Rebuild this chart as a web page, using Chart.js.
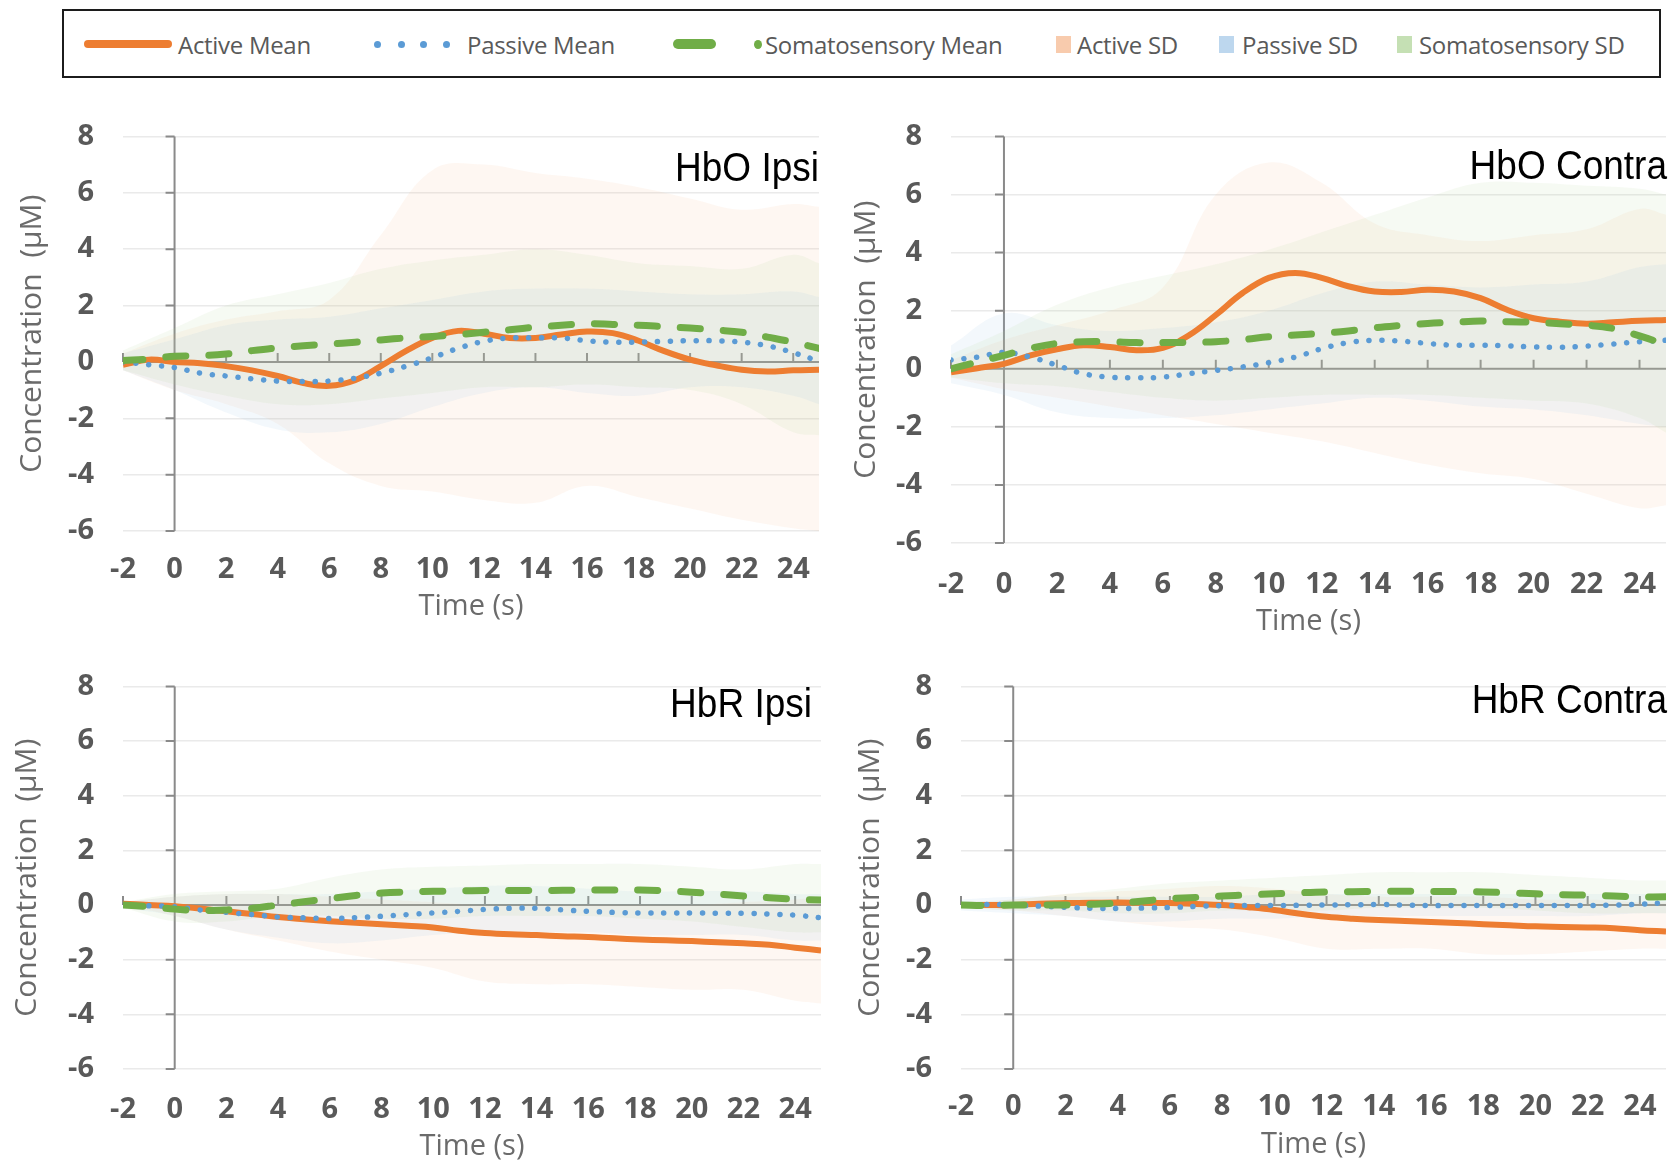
<!DOCTYPE html>
<html>
<head>
<meta charset="utf-8">
<script src="https://cdn.jsdelivr.net/npm/chart.js@4.4.1/dist/chart.umd.min.js"></script>
<style>
  html, body { margin: 0; padding: 0; background: #ffffff; }
  #page { position: relative; width: 1680px; height: 1164px; overflow: hidden; background: #fff; }
  .wrap { position: absolute; }
  .wrap canvas { display: block; }
  #legend { position: absolute; left: 62px; top: 9px; width: 1595px; height: 65px; border: 2px solid #1c1c1c; }
  .lg { position: absolute; font-family: "Open Sans", sans-serif; font-size: 24px; color: #595959; line-height: 1; top: 22px; white-space: nowrap; letter-spacing: -0.3px; }
  .sw { position: absolute; }
  .ptitle { position: absolute; font-family: "Liberation Sans", Arial, sans-serif; font-size: 37px; color: #000; line-height: 1; white-space: nowrap; transform-origin: right bottom; transform: scaleY(1.1); text-align: right; }
</style>
</head>
<body>
<div id="page">
  <div id="legend">
    <div class="sw" style="left:20px;top:29px;width:88px;height:8px;background:#ED7D31;border-radius:4px;"></div>
    <div class="lg" style="left:114px;">Active Mean</div>
    <div class="sw" style="left:310px;top:30px;width:7px;height:7px;background:#5B9BD5;border-radius:50%;"></div>
    <div class="sw" style="left:334px;top:30px;width:7px;height:7px;background:#5B9BD5;border-radius:50%;"></div>
    <div class="sw" style="left:356px;top:30px;width:7px;height:7px;background:#5B9BD5;border-radius:50%;"></div>
    <div class="sw" style="left:379px;top:30px;width:7px;height:7px;background:#5B9BD5;border-radius:50%;"></div>
    <div class="lg" style="left:403px;">Passive Mean</div>
    <div class="sw" style="left:609px;top:28px;width:43px;height:10px;background:#70AD47;border-radius:5px;"></div>
    <div class="sw" style="left:690px;top:29px;width:8px;height:9px;background:#70AD47;border-radius:50%;"></div>
    <div class="lg" style="left:701px;">Somatosensory Mean</div>
    <div class="sw" style="left:992px;top:25px;width:15px;height:17px;background:#F8CBAD;"></div>
    <div class="lg" style="left:1013px;">Active SD</div>
    <div class="sw" style="left:1155px;top:25px;width:15px;height:17px;background:#BDD7EE;"></div>
    <div class="lg" style="left:1178px;">Passive SD</div>
    <div class="sw" style="left:1333px;top:25px;width:15px;height:17px;background:#C5E0B4;"></div>
    <div class="lg" style="left:1355px;">Somatosensory SD</div>
  </div>

  <div class="wrap" style="left:0px;top:90px;"><canvas id="c1" width="840" height="560"></canvas></div>
  <div class="wrap" style="left:840px;top:90px;"><canvas id="c2" width="840" height="560"></canvas></div>
  <div class="wrap" style="left:0px;top:640px;"><canvas id="c3" width="840" height="524"></canvas></div>
  <div class="wrap" style="left:840px;top:640px;"><canvas id="c4" width="840" height="524"></canvas></div>

  <div class="ptitle" style="right:861px;top:151px;">HbO Ipsi</div>
  <div class="ptitle" style="right:13px;top:149px;">HbO Contra</div>
  <div class="ptitle" style="right:868px;top:687px;">HbR Ipsi</div>
  <div class="ptitle" style="right:13px;top:683px;">HbR Contra</div>
</div>

<script>
// ---------- time bases (s) ----------
const timeMean = [-2,-1,0,1,2,3,4,5,6,7,8,9,10,11,12,13,14,15,16,17,18,19,20,21,22,23,24,25];
const timeSD   = [-2,0,2,4,6,8,10,12,14,16,18,20,22,24,25];

// ---------- tick labels ----------
const xTickStep = 2;
const yTickStep = 2;
const xMin = -2, xMax = 25;
const yMin = -6, yMax = 8;

// ---------- HbO Ipsi ----------
const hboIpsiActive  = [-0.1,0.08,0.0,-0.05,-0.15,-0.3,-0.5,-0.75,-0.85,-0.65,-0.15,0.4,0.85,1.1,1.0,0.85,0.85,0.97,1.08,1.02,0.75,0.38,0.08,-0.12,-0.28,-0.34,-0.3,-0.28];
const hboIpsiPassive = [0.0,-0.1,-0.2,-0.4,-0.5,-0.6,-0.68,-0.7,-0.68,-0.58,-0.4,-0.15,0.15,0.48,0.73,0.85,0.85,0.85,0.75,0.7,0.7,0.73,0.75,0.75,0.7,0.57,0.33,0.02];
const hboIpsiSoma    = [0.05,0.1,0.2,0.22,0.28,0.4,0.5,0.57,0.63,0.7,0.78,0.85,0.9,0.97,1.05,1.14,1.23,1.3,1.35,1.33,1.3,1.25,1.2,1.13,1.05,0.88,0.7,0.48];
const hboIpsiActiveHi  = [0.3,1.0,1.5,1.8,2.2,4.5,6.8,7.0,6.7,6.5,6.2,5.8,5.4,5.6,5.5];
const hboIpsiActiveLo  = [-0.3,-1.0,-1.5,-2.2,-3.6,-4.4,-4.6,-4.9,-5.0,-4.4,-4.8,-5.2,-5.6,-5.9,-6.0];
const hboIpsiPassiveHi = [0.3,0.8,1.3,1.5,1.6,1.9,2.2,2.5,2.6,2.6,2.5,2.4,2.4,2.5,2.3];
const hboIpsiPassiveLo = [-0.3,-1.0,-1.8,-2.4,-2.5,-2.2,-1.6,-1.1,-0.9,-1.1,-1.2,-0.9,-0.9,-1.2,-1.5];
const hboIpsiSomaHi    = [0.4,1.2,2.0,2.4,2.8,3.3,3.6,3.8,4.0,3.8,3.5,3.4,3.3,3.8,3.5];
const hboIpsiSomaLo    = [-0.3,-0.8,-1.2,-1.5,-1.5,-1.3,-1.1,-0.9,-0.9,-0.8,-0.9,-1.0,-1.5,-2.5,-2.6];

// ---------- HbO Contra ----------
const hboContraActive  = [-0.12,0.02,0.17,0.46,0.67,0.81,0.75,0.64,0.72,1.16,1.85,2.6,3.13,3.3,3.13,2.84,2.66,2.64,2.72,2.66,2.43,2.03,1.74,1.62,1.55,1.6,1.65,1.68];
const hboContraPassive = [0.3,0.4,0.56,0.4,0.12,-0.17,-0.29,-0.31,-0.29,-0.17,-0.06,0.06,0.21,0.4,0.69,0.9,0.98,0.95,0.87,0.81,0.81,0.79,0.75,0.74,0.78,0.85,0.93,0.98];
const hboContraSoma    = [0.0,0.23,0.46,0.7,0.87,0.93,0.93,0.9,0.9,0.91,0.93,1.0,1.1,1.16,1.22,1.3,1.41,1.49,1.56,1.6,1.64,1.62,1.6,1.55,1.5,1.39,1.13,0.83];
const hboContraActiveHi  = [0.3,1.0,1.5,2.0,2.8,6.0,7.1,6.4,5.0,4.6,4.4,4.6,4.8,5.5,5.3];
const hboContraActiveLo  = [-0.3,-0.7,-1.0,-1.3,-1.6,-1.9,-2.2,-2.5,-2.9,-3.3,-3.6,-3.8,-4.3,-4.8,-4.7];
const hboContraPassiveHi = [0.8,1.9,1.5,1.3,1.4,1.6,2.0,2.6,3.0,2.9,2.8,2.9,3.0,3.5,3.6];
const hboContraPassiveLo = [-0.5,-0.9,-1.5,-1.7,-1.7,-1.6,-1.4,-1.2,-1.0,-1.1,-1.3,-1.4,-1.6,-1.9,-2.0];
const hboContraSomaHi    = [0.5,1.3,2.2,2.8,3.2,3.6,4.1,4.7,5.3,5.9,6.4,6.4,6.3,6.2,6.0];
const hboContraSomaLo    = [-0.3,-0.5,-0.6,-0.8,-1.0,-1.1,-1.0,-0.9,-0.9,-0.9,-1.0,-1.1,-1.2,-1.7,-2.2];

// ---------- HbR Ipsi ----------
const hbrIpsiActive  = [0.05,0.0,-0.04,-0.13,-0.23,-0.33,-0.44,-0.52,-0.59,-0.65,-0.7,-0.76,-0.82,-0.94,-1.02,-1.07,-1.1,-1.14,-1.17,-1.22,-1.26,-1.29,-1.32,-1.36,-1.4,-1.45,-1.56,-1.66];
const hbrIpsiPassive = [0.0,-0.03,-0.06,-0.18,-0.27,-0.35,-0.44,-0.47,-0.49,-0.46,-0.41,-0.35,-0.29,-0.23,-0.16,-0.12,-0.12,-0.18,-0.23,-0.27,-0.29,-0.29,-0.29,-0.3,-0.3,-0.33,-0.37,-0.47];
const hbrIpsiSoma    = [0.0,-0.06,-0.15,-0.2,-0.18,-0.12,0.0,0.12,0.23,0.35,0.44,0.48,0.5,0.52,0.53,0.53,0.53,0.54,0.55,0.55,0.55,0.52,0.47,0.4,0.33,0.27,0.21,0.18];
const hbrIpsiActiveHi  = [0.1,0.3,0.4,0.4,0.3,0.2,0.1,0.0,0.0,0.0,0.0,0.0,0.1,0.2,0.3];
const hbrIpsiActiveLo  = [0.0,-0.4,-0.9,-1.3,-1.7,-2.0,-2.3,-2.8,-2.9,-2.9,-3.0,-3.1,-3.1,-3.5,-3.6];
const hbrIpsiPassiveHi = [0.1,0.3,0.4,0.4,0.4,0.5,0.6,0.7,0.7,0.6,0.5,0.5,0.5,0.4,0.4];
const hbrIpsiPassiveLo = [-0.1,-0.4,-0.9,-1.2,-1.4,-1.3,-1.1,-1.0,-1.0,-1.0,-1.1,-1.1,-1.1,-1.3,-1.3];
const hbrIpsiSomaHi    = [0.1,0.4,0.5,0.6,1.0,1.3,1.4,1.45,1.5,1.5,1.5,1.4,1.3,1.5,1.5];
const hbrIpsiSomaLo    = [-0.1,-0.6,-0.6,-0.4,-0.4,-0.5,-0.5,-0.4,-0.4,-0.4,-0.5,-0.6,-0.8,-1.0,-1.0];

// ---------- HbR Contra ----------
const hbrContraActive  = [0.0,0.0,0.0,0.05,0.07,0.08,0.09,0.08,0.07,0.04,0.0,-0.08,-0.18,-0.32,-0.43,-0.5,-0.55,-0.58,-0.62,-0.66,-0.7,-0.74,-0.78,-0.8,-0.82,-0.85,-0.92,-0.97];
const hbrContraPassive = [0.0,0.02,0.0,-0.04,-0.08,-0.12,-0.13,-0.11,-0.09,-0.05,-0.02,-0.02,-0.02,-0.01,0.0,0.01,0.02,0.0,-0.02,-0.02,-0.02,-0.02,-0.02,-0.02,-0.02,0.0,0.03,0.09];
const hbrContraSoma    = [0.0,-0.02,0.0,0.0,0.0,0.03,0.07,0.15,0.23,0.28,0.33,0.37,0.41,0.45,0.48,0.49,0.5,0.5,0.5,0.49,0.48,0.45,0.41,0.38,0.36,0.33,0.3,0.3];
const hbrContraActiveHi  = [0.1,0.2,0.4,0.5,0.6,0.7,0.6,0.4,0.3,0.3,0.3,0.2,0.2,0.1,0.1];
const hbrContraActiveLo  = [-0.1,-0.2,-0.4,-0.6,-0.8,-0.9,-1.2,-1.6,-1.6,-1.6,-1.8,-1.8,-1.7,-1.6,-1.6];
const hbrContraPassiveHi = [0.2,0.3,0.3,0.3,0.3,0.3,0.4,0.4,0.4,0.4,0.4,0.4,0.4,0.4,0.4];
const hbrContraPassiveLo = [-0.2,-0.3,-0.4,-0.6,-0.6,-0.5,-0.5,-0.4,-0.4,-0.4,-0.4,-0.4,-0.4,-0.3,-0.3];
const hbrContraSomaHi    = [0.1,0.2,0.4,0.6,0.8,0.9,1.0,1.1,1.2,1.2,1.2,1.1,1.0,0.9,0.9];
const hbrContraSomaLo    = [-0.1,-0.2,-0.2,-0.3,-0.3,-0.2,-0.2,-0.2,-0.1,-0.1,-0.1,-0.2,-0.3,-0.3,-0.3];

// ---------- helpers ----------
function pts(ts, vs) { return ts.map((t, i) => ({ x: t, y: vs[i] })); }

const COL = {
  active: '#ED7D31', passive: '#5B9BD5', soma: '#70AD47',
  activeBand: 'rgba(244,177,131,0.10)',
  passiveBand: 'rgba(157,195,230,0.12)',
  somaBand: 'rgba(169,209,142,0.11)'
};

const TICK_FONT = { family: "'Open Sans', sans-serif", weight: 'bold', size: 29 };
const TITLE_COLOR = '#6b6b6b';

const excelAxes = {
  id: 'excelAxes',
  beforeDatasetsDraw(chart) {
    const { ctx, scales: { x, y } } = chart;
    const x0 = x.getPixelForValue(0), y0 = y.getPixelForValue(0);
    ctx.save();
    ctx.strokeStyle = '#8a8a8a';
    ctx.lineWidth = 2;
    ctx.beginPath();
    ctx.moveTo(x0, y.getPixelForValue(yMax));
    ctx.lineTo(x0, y.getPixelForValue(yMin));
    y.ticks.forEach(t => { const py = y.getPixelForValue(t.value); ctx.moveTo(x0 - 9, py); ctx.lineTo(x0, py); });
    ctx.moveTo(x.getPixelForValue(xMin), y0);
    ctx.lineTo(x.getPixelForValue(xMax), y0);
    x.ticks.forEach(t => { const px = x.getPixelForValue(t.value); ctx.moveTo(px, y0); ctx.lineTo(px, y0 - 9); });
    ctx.stroke();
    ctx.restore();
  }
};

function band(hi, lo, color, order) {
  return [
    { data: pts(timeSD, hi), borderWidth: 0, borderColor: 'transparent', pointRadius: 0, fill: false, tension: 0.4, order: order },
    { data: pts(timeSD, lo), borderWidth: 0, borderColor: 'transparent', pointRadius: 0, fill: '-1', backgroundColor: color, tension: 0.4, order: order }
  ];
}

function makeChart(id, p) {
  const datasets = [
    { label: 'Somatosensory Mean', data: pts(timeMean, p.soma), borderColor: COL.soma, borderWidth: 7, borderDash: [20, 23], borderCapStyle: 'round', pointRadius: 0, fill: false, tension: 0.4, order: 1 },
    { label: 'Passive Mean', data: pts(timeMean, p.passive), borderColor: COL.passive, borderWidth: 5.5, borderDash: [0.1, 12.8], borderCapStyle: 'round', pointRadius: 0, fill: false, tension: 0.4, order: 2 },
    { label: 'Active Mean', data: pts(timeMean, p.active), borderColor: COL.active, borderWidth: 6, pointRadius: 0, fill: false, tension: 0.4, order: 3 },
    ...band(p.somaHi, p.somaLo, COL.somaBand, 10),
    ...band(p.passiveHi, p.passiveLo, COL.passiveBand, 11),
    ...band(p.activeHi, p.activeLo, COL.activeBand, 12)
  ];
  return new Chart(document.getElementById(id), {
    type: 'line',
    data: { datasets },
    plugins: [excelAxes],
    options: {
      responsive: false, animation: false, devicePixelRatio: 1,
      layout: { padding: { left: 0, top: p.padTop, right: p.padRight, bottom: 0 } },
      plugins: { legend: { display: false }, tooltip: { enabled: false }, title: { display: false } },
      elements: { line: { borderJoinStyle: 'round' } },
      scales: {
        x: {
          type: 'linear', min: xMin, max: xMax,
          grid: { display: false }, border: { display: false },
          ticks: { stepSize: xTickStep, includeBounds: false, autoSkip: false, maxRotation: 0, padding: p.xTickPad,
                   color: '#595959', font: TICK_FONT },
          title: { display: true, text: 'Time (s)', color: TITLE_COLOR,
                   font: { family: "'Open Sans', sans-serif", size: 29 }, padding: { top: 0, bottom: p.xTitlePad } },
          afterFit: (s) => { s.height = p.xHeight; }
        },
        y: {
          type: 'linear', min: yMin, max: yMax,
          grid: { color: '#eaeaea', lineWidth: 1.5, drawTicks: false }, border: { display: false },
          ticks: { stepSize: yTickStep, padding: 29, color: '#595959', font: TICK_FONT },
          title: { display: true, text: 'Concentration  (µM)', color: TITLE_COLOR,
                   font: { family: "'Open Sans', sans-serif", size: 30 }, padding: { top: p.yTitlePad, bottom: 0 } },
          afterFit: (s) => { s.width = p.yWidth; }
        }
      }
    }
  });
}

makeChart('c1', {
  active: hboIpsiActive, passive: hboIpsiPassive, soma: hboIpsiSoma,
  activeHi: hboIpsiActiveHi, activeLo: hboIpsiActiveLo, passiveHi: hboIpsiPassiveHi, passiveLo: hboIpsiPassiveLo, somaHi: hboIpsiSomaHi, somaLo: hboIpsiSomaLo,
  padTop: 42, padRight: 21, yWidth: 123, xHeight: 119, xTickPad: 13, xTitlePad: 26, yTitlePad: 14
});
makeChart('c2', {
  active: hboContraActive, passive: hboContraPassive, soma: hboContraSoma,
  activeHi: hboContraActiveHi, activeLo: hboContraActiveLo, passiveHi: hboContraPassiveHi, passiveLo: hboContraPassiveLo, somaHi: hboContraSomaHi, somaLo: hboContraSomaLo,
  padTop: 36, padRight: 14, yWidth: 111, xHeight: 107, xTickPad: 16, xTitlePad: 11, yTitlePad: 8
});
makeChart('c3', {
  active: hbrIpsiActive, passive: hbrIpsiPassive, soma: hbrIpsiSoma,
  activeHi: hbrIpsiActiveHi, activeLo: hbrIpsiActiveLo, passiveHi: hbrIpsiPassiveHi, passiveLo: hbrIpsiPassiveLo, somaHi: hbrIpsiSomaHi, somaLo: hbrIpsiSomaLo,
  padTop: 33, padRight: 19, yWidth: 123, xHeight: 95, xTickPad: 15, xTitlePad: 0, yTitlePad: 9
});
makeChart('c4', {
  active: hbrContraActive, passive: hbrContraPassive, soma: hbrContraSoma,
  activeHi: hbrContraActiveHi, activeLo: hbrContraActiveLo, passiveHi: hbrContraPassiveHi, passiveLo: hbrContraPassiveLo, somaHi: hbrContraSomaHi, somaLo: hbrContraSomaLo,
  padTop: 26, padRight: 14, yWidth: 121, xHeight: 95, xTickPad: 12, xTitlePad: 2, yTitlePad: 12
});
</script>
</body>
</html>
